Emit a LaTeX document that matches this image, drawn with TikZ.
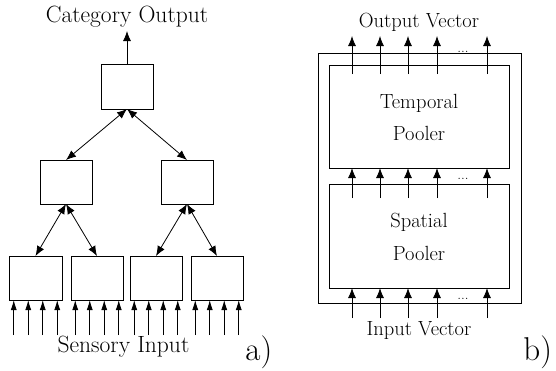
\documentclass[tikz,border=0pt]{standalone}
\usepackage{fontspec}
\usetikzlibrary{arrows.meta}
\begin{document}
\begin{tikzpicture}[x=1pt,y=-1pt,line width=0.8pt,
 box/.style={draw,minimum width=52pt,minimum height=44pt,inner sep=0pt,outer sep=0pt},
 pbox/.style={draw,inner sep=0pt,outer sep=0pt},
 arr/.style={-{Latex[length=10pt,width=8pt]}},
 darr/.style={{Latex[length=10pt,width=8pt]}-{Latex[length=10pt,width=8pt]}},
 inarr/.style={-{Latex[length=10pt,width=6pt]}},
 lbl/.style={font=\fontsize{23.5}{28}\selectfont,anchor=base,inner sep=0pt},
 rlbl/.style={font=\fontsize{20.5}{24}\selectfont,anchor=base,inner sep=0pt},
 tag/.style={font=\fontsize{33}{38}\selectfont,anchor=base west,inner sep=0pt},
 dots/.style={font=\fontsize{15}{18}\selectfont,inner sep=0pt,anchor=base}]
\useasboundingbox (0,0) rectangle (556,370);
% ---- a) hierarchy
\node[box,minimum height=45pt] (T) at (127,86.5) {};
\node[box] (A) at (66,182) {};
\node[box] (B) at (187,182) {};
\node[box,minimum width=53pt] (b1) at (35.5,278) {};
\node[box] (b2) at (97,278) {};
\node[box] (b3) at (156,278) {};
\node[box] (b4) at (217,278) {};
\node[lbl] (cat) at (127,22) {Category Output};
\coordinate (catarr) at (127,31);
\draw[arr] (T.north) -- (catarr);
\draw[darr] (T.south) -- (A.north);
\draw[darr] (T.south) -- (B.north);
\draw[darr] (A.south) -- (b1.north);
\draw[darr] (A.south) -- (b2.north);
\draw[darr] (B.south) -- (b3.north);
\draw[darr] (B.south) -- (b4.north);
\foreach \b in {b1,b2,b3,b4}{
  \foreach \o [count=\i] in {-21.75,-7.25,7.25,21.75}{
    \coordinate (\b in\i) at ([xshift=\o pt,yshift=-35pt]\b.south);
    \draw[inarr] (\b in\i) -- (\b in\i |- \b.south);
  }
}
\node[lbl] (sens) at (123.5,352) {Sensory Input};
\node[tag] (ta) at (245,360) {a)};
% ---- b) region
\node[pbox,minimum width=203pt,minimum height=250pt] (O) at (419.5,178) {};
\node[pbox,minimum width=180pt,minimum height=103pt] (P1) at (419,116.5) {};
\node[pbox,minimum width=180pt,minimum height=104pt] (P2) at (419,236) {};
\node[rlbl] (t1) at (419,108) {Temporal};
\node[rlbl] (t2) at (419,140) {Pooler};
\node[rlbl] (s1) at (419,227) {Spatial};
\node[rlbl] (s2) at (419,260) {Pooler};
\node[rlbl] (ov) at (419,27) {Output Vector};
\node[rlbl] (iv) at (419,335) {Input Vector};
\node[tag] (tb) at (523,360) {b)};
\foreach \o [count=\i] in {23,51,79,108,158}{
  \coordinate (os\i) at ([xshift=\o pt,yshift=-9pt]P1.north west);
  \coordinate (oe\i) at ([xshift=\o pt,yshift=29pt]P1.north west);
  \draw[arr] (os\i) -- (oe\i);
  \coordinate (ms\i) at ([xshift=\o pt,yshift=-14pt]P2.north west);
  \draw[arr] (ms\i) -- (ms\i |- P1.south);
  \coordinate (is\i) at ([xshift=\o pt,yshift=-30pt]P2.south west);
  \draw[arr] (is\i) -- (is\i |- P2.south);
}
\node[dots] (d1) at (463,52.5) {...};
\node[dots] (d2) at (463,179) {...};
\node[dots] (d3) at (463,299) {...};
\end{tikzpicture}
\end{document}
